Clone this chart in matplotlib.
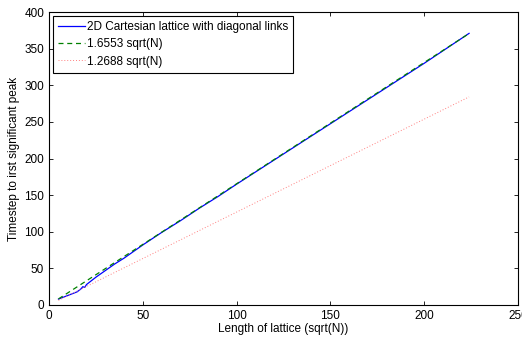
import numpy as np
import matplotlib.pyplot as plt

plt.rcParams['font.family'] = ['Liberation Sans', 'DejaVu Sans']
plt.rcParams['font.size'] = 8.5

# lattice side length vs. timestep of first significant peak
lattice_len = [5, 8, 10, 12, 15, 17, 18, 19, 20, 22, 25, 30, 35, 40, 45, 50,
               60, 70, 80, 90, 100, 120, 140, 160, 180, 200, 224]
peak_step = [8, 11, 13, 15, 18, 22, 25, 24, 28, 32, 38, 47, 56, 64, 73, 82,
             99, 115, 132, 148, 165, 198, 231, 264, 297, 330, 371]

fit_hi = 1.6553
fit_lo = 1.2688

xs = np.linspace(5, 224, 200)

fig = plt.figure(figsize=(5.22, 3.37), dpi=100)
ax = fig.add_axes([0.094, 0.095, 0.898, 0.869])

ax.plot(lattice_len, peak_step, color='#0000ff', lw=0.9,
        label='2D Cartesian lattice with diagonal links')
ax.plot(xs, fit_hi * xs, color='#008000', ls=(0, (4, 3)), lw=0.9,
        label='1.6553 sqrt(N)')
ax.plot(xs, fit_lo * xs, color='#ff8080', ls=(0, (1, 2)), lw=0.7,
        label='1.2688 sqrt(N)')

ax.set_xlim(0, 250)
ax.set_ylim(0, 400)
ax.set_xticks(np.arange(0, 251, 50))
ax.set_yticks(np.arange(0, 401, 50))
ax.tick_params(direction='in', top=True, right=True, length=3, width=0.6)
for s in ax.spines.values():
    s.set_linewidth(0.8)

ax.set_xlabel('Length of lattice (sqrt(N))', labelpad=1)
ax.set_ylabel('Timestep to irst significant peak', labelpad=3)

leg = ax.legend(loc='upper left', fancybox=False, framealpha=1,
                edgecolor='black', handlelength=2.3, handletextpad=0.15,
                borderpad=0.45, labelspacing=0.45, borderaxespad=0.3)
leg.get_frame().set_linewidth(0.8)

fig.savefig('out.png', dpi=100)
